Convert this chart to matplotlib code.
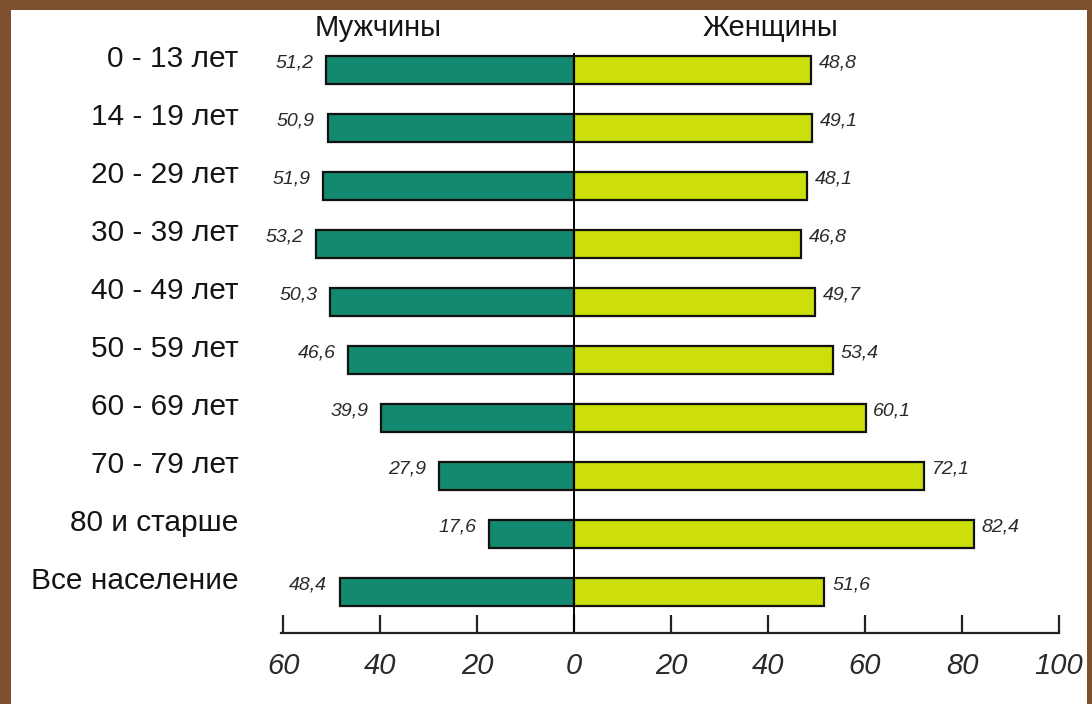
import matplotlib
matplotlib.use("Agg")
import matplotlib.pyplot as plt
from matplotlib.patches import Rectangle

plt.rcParams['font.family'] = ['Liberation Sans', 'DejaVu Sans']

# data
categories = ["0 - 13 лет", "14 - 19 лет", "20 - 29 лет", "30 - 39 лет", "40 - 49 лет",
              "50 - 59 лет", "60 - 69 лет", "70 - 79 лет", "80 и старше", "Все население"]
men = [51.2, 50.9, 51.9, 53.2, 50.3, 46.6, 39.9, 27.9, 17.6, 48.4]
women = [48.8, 49.1, 48.1, 46.8, 49.7, 53.4, 60.1, 72.1, 82.4, 51.6]
tick_values = [-60, -40, -20, 0, 20, 40, 60, 80, 100]
tick_labels = ["60", "40", "20", "0", "20", "40", "60", "80", "100"]

men_color = "#13896f"
women_color = "#ccdf0a"
border_color = "#7d5130"
text_color = "#141414"

fig = plt.figure(figsize=(10.92, 7.04), dpi=100)
fig.patch.set_facecolor("white")

# brown frame round the white panel
W, H = 1092, 704
frame = [(0, 0, 11 / W, 1), (0, 1 - 10 / H, 1, 10 / H), (1 - 5 / W, 0, 5 / W, 1)]
for x0, y0, w, h in frame:
    fig.patches.append(Rectangle((x0, y0), w, h, transform=fig.transFigure,
                                 facecolor=border_color, edgecolor="none", zorder=20))

ax = fig.add_axes([281 / W, 1 - 633 / H, 778 / W, (633 - 41) / H])
ax.set_xlim(-60.5, 100)
ax.set_ylim(9.71, -0.5)

ypos = list(range(len(categories)))
ax.barh(ypos, [-m for m in men], height=0.48, color=men_color, edgecolor="#111111", linewidth=1.6)
ax.barh(ypos, women, height=0.48, color=women_color, edgecolor="#111111", linewidth=1.6)

# centre line
ax.plot([0, 0], [-0.27, 9.71], color="black", linewidth=1.4, clip_on=False)

for y, cat, m, w in zip(ypos, categories, men, women):
    ax.text(-69.3, y - 0.19, cat, ha="right", va="center", fontsize=21.5, color=text_color)
    ax.text(-m - 2.6, y - 0.12, f"{m:.1f}".replace(".", ","), ha="right", va="center",
            fontsize=14, style="italic", color="#2a2a2a")
    ax.text(w + 1.6, y - 0.12, f"{w:.1f}".replace(".", ","), ha="left", va="center",
            fontsize=14, style="italic", color="#2a2a2a")

ax.text(-40.5, -0.72, "Мужчины", ha="center", va="center", fontsize=21, color=text_color)
ax.text(40.5, -0.72, "Женщины", ha="center", va="center", fontsize=21, color=text_color)

for s in ["top", "left", "right"]:
    ax.spines[s].set_visible(False)
ax.spines["bottom"].set_linewidth(1.6)
ax.spines["bottom"].set_color("#222222")
ax.set_yticks([])
ax.set_xticks(tick_values)
ax.set_xticklabels(tick_labels, fontsize=21, style="italic", color="#2a2a2a")
ax.tick_params(axis="x", direction="in", length=13, width=1.6, color="#222222", pad=14)

fig.savefig("out.png", dpi=100)
